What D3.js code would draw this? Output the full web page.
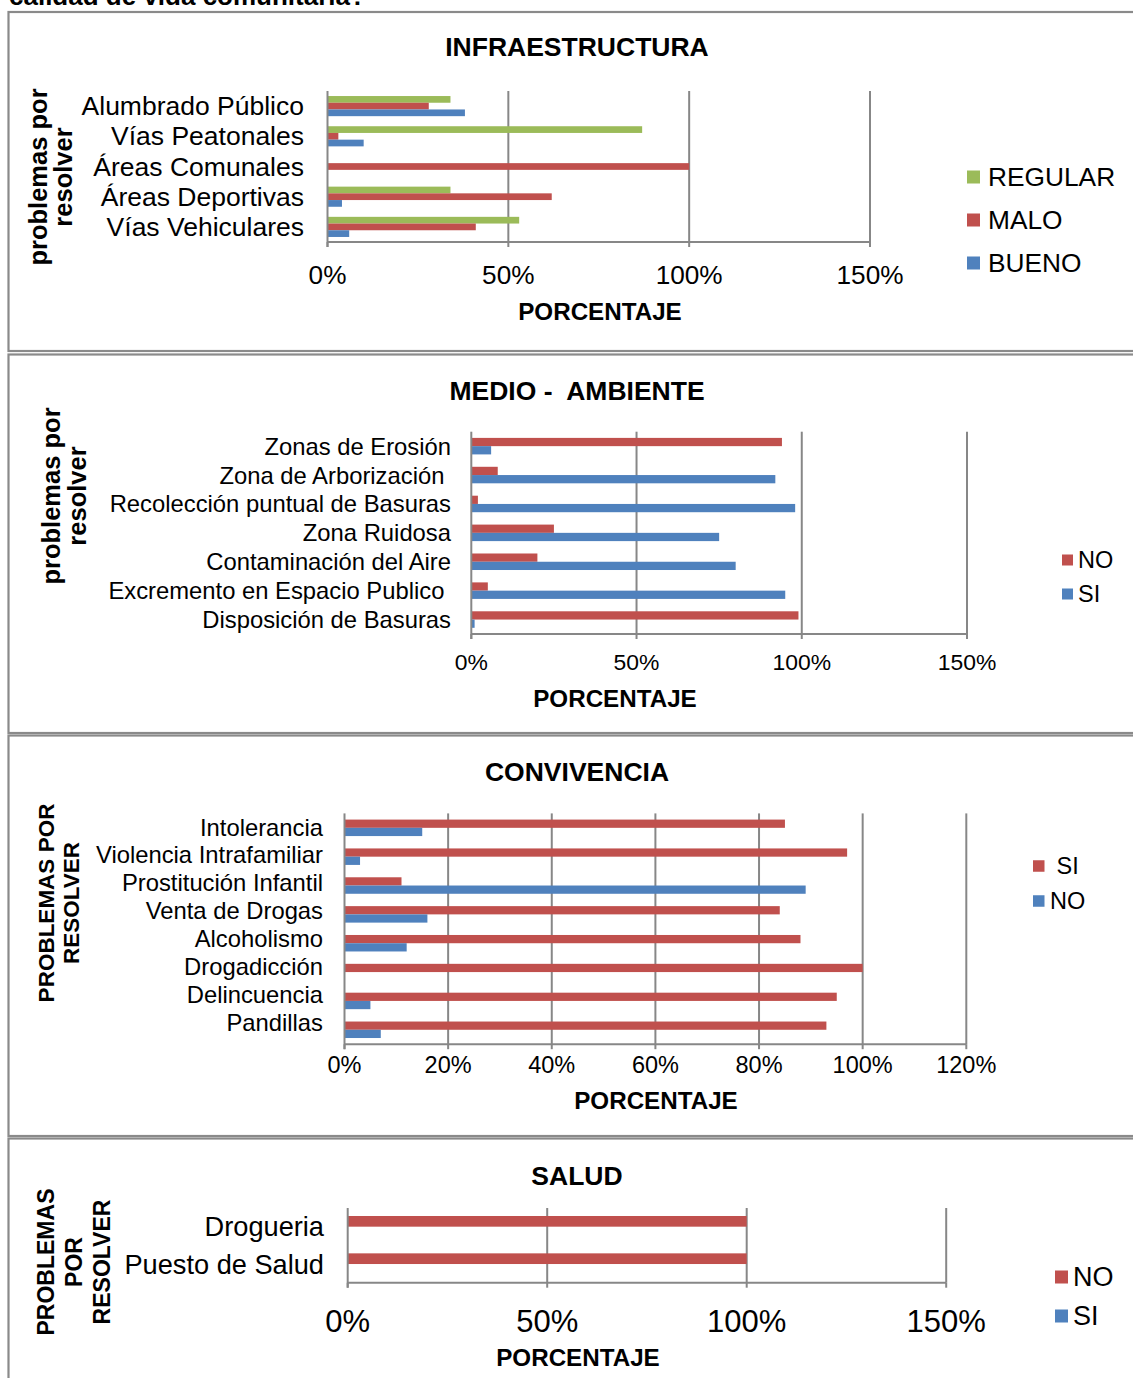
<!DOCTYPE html>
<html>
<head>
<meta charset="utf-8">
<script src="https://cdn.jsdelivr.net/npm/d3@7"></script>
<style>
  html, body { margin: 0; padding: 0; background: #fff; }
  svg { display: block; font-family: "Liberation Sans", Arial, sans-serif; }
  text { white-space: pre; }
</style>
</head>
<body>
<svg id="chart" width="1133" height="1378"></svg>
<script>
// Infraestructura
var infraCats = ["Alumbrado Público", "Vías Peatonales", "Áreas Comunales", "Áreas Deportivas", "Vías Vehiculares"];
var infraRegular = [0.34, 0.87, 0, 0.34, 0.53];
var infraMalo = [0.28, 0.03, 1.00, 0.62, 0.41];
var infraBueno = [0.38, 0.10, 0, 0.04, 0.06];
var infraTicks = [0, 0.5, 1, 1.5];

// Medio ambiente
var ambCats = ["Zonas de Erosión", "Zona de Arborización ", "Recolección puntual de Basuras", "Zona Ruidosa",
  "Contaminación del Aire", "Excremento en Espacio Publico ", "Disposición de Basuras"];
var ambNo = [0.94, 0.08, 0.02, 0.25, 0.20, 0.05, 0.99];
var ambSi = [0.06, 0.92, 0.98, 0.75, 0.80, 0.95, 0.01];
var ambTicks = [0, 0.5, 1, 1.5];

// Convivencia
var convCats = ["Intolerancia", "Violencia Intrafamiliar", "Prostitución Infantil", "Venta de Drogas",
  "Alcoholismo", "Drogadicción", "Delincuencia", "Pandillas"];
var convSi = [0.85, 0.97, 0.11, 0.84, 0.88, 1.00, 0.95, 0.93];
var convNo = [0.15, 0.03, 0.89, 0.16, 0.12, 0, 0.05, 0.07];
var convTicks = [0, 0.2, 0.4, 0.6, 0.8, 1.0, 1.2];

// Salud
var saludCats = ["Drogueria", "Puesto de Salud"];
var saludNo = [1, 1];
var saludSi = [0, 0];
var saludTicks = [0, 0.5, 1, 1.5];

var col = { blue: "#4F81BD", red: "#C0504D", green: "#9BBB59", grid: "#878787" };

var svg = d3.select("#chart");

// Header (cut off at the top of the page, as in the source)
svg.append("text")
  .attr("x", 9).attr("y", 4.5)
  .style("font-weight", "bold").style("font-size", "26px")
  .text("calidad de vida comunitaria?");

// Panel frames
[[12, 339], [354.5, 378.5], [735.5, 400.5], [1138.5, 260]].forEach(function (p) {
  svg.append("rect")
    .attr("x", 8.5).attr("y", p[0]).attr("width", 1140).attr("height", p[1])
    .attr("fill", "none").attr("stroke", "#8a8a8a").attr("stroke-width", 2.2);
});

function drawPanel(cfg) {
  var g = svg.append("g");
  var x = d3.scaleLinear().domain([0, cfg.ticks[cfg.ticks.length - 1]]).range([cfg.x0, cfg.x1]);
  var y = d3.scaleBand().domain(cfg.cats).range([cfg.top, cfg.bottom]).padding(0);
  var sNames = cfg.series.map(function (s) { return s.name; });
  var yInner = d3.scaleBand().domain(sNames).range([0, y.bandwidth()])
    .paddingInner(0).paddingOuter(0.75);

  // gridlines
  g.selectAll(".grid").data(cfg.ticks.slice(1)).enter().append("line")
    .attr("x1", function (d) { return x(d); }).attr("x2", function (d) { return x(d); })
    .attr("y1", cfg.top).attr("y2", cfg.bottom)
    .attr("stroke", col.grid).attr("stroke-width", 2);

  // bars
  cfg.series.forEach(function (s) {
    g.selectAll(null).data(s.values).enter().append("rect")
      .attr("x", x(0))
      .attr("y", function (d, i) { return y(cfg.cats[i]) + yInner(s.name); })
      .attr("width", function (d) { return x(d) - x(0); })
      .attr("height", yInner.bandwidth())
      .attr("fill", s.color);
  });

  // axes lines
  g.append("line").attr("x1", x(0)).attr("x2", x(0)).attr("y1", cfg.top).attr("y2", cfg.bottom + 5)
    .attr("stroke", col.grid).attr("stroke-width", 2);
  g.append("line").attr("x1", x(0)).attr("x2", cfg.x1).attr("y1", cfg.bottom).attr("y2", cfg.bottom)
    .attr("stroke", col.grid).attr("stroke-width", 2);
  g.selectAll(".tk").data(cfg.ticks).enter().append("line")
    .attr("x1", function (d) { return x(d); }).attr("x2", function (d) { return x(d); })
    .attr("y1", cfg.bottom).attr("y2", cfg.bottom + 5)
    .attr("stroke", col.grid).attr("stroke-width", 2);

  // tick labels
  g.selectAll(".tl").data(cfg.ticks).enter().append("text")
    .attr("x", function (d) { return x(d); }).attr("y", cfg.tickY)
    .attr("text-anchor", "middle").attr("dominant-baseline", "central")
    .style("font-size", cfg.tickFont + "px")
    .text(d3.format(".0%"));

  // category labels
  var step = cfg.labelStep || y.bandwidth();
  var first = cfg.labelFirst || (cfg.top + y.bandwidth() / 2);
  g.selectAll(".cl").data(cfg.cats).enter().append("text")
    .attr("x", cfg.labelX).attr("y", function (d, i) { return first + i * step; })
    .attr("text-anchor", "end").attr("dominant-baseline", "central")
    .style("font-size", cfg.labelFont + "px")
    .text(function (d) { return d; });

  // titles
  g.append("text").attr("x", 577).attr("y", cfg.titleY)
    .attr("text-anchor", "middle").attr("dominant-baseline", "central")
    .style("font-weight", "bold").style("font-size", "26.5px")
    .text(cfg.title);
  g.append("text").attr("x", cfg.axTitleX).attr("y", cfg.axTitleY)
    .attr("text-anchor", "middle").attr("dominant-baseline", "central")
    .style("font-weight", "bold").style("font-size", "24.2px")
    .text("PORCENTAJE");

  // rotated y title
  cfg.yTitle.forEach(function (t, i) {
    g.append("text")
      .attr("transform", "translate(" + cfg.yTitleX[i] + "," + cfg.yTitleCy + ") rotate(-90)")
      .attr("text-anchor", "middle")
      .style("font-weight", "bold").style("font-size", cfg.yTitleFont + "px")
      .text(t);
  });

  // legend
  cfg.legend.forEach(function (l, i) {
    var ly = cfg.legY[i];
    g.append("rect").attr("x", cfg.legX).attr("y", ly - cfg.legSq / 2)
      .attr("width", cfg.legSq).attr("height", cfg.legSq).attr("fill", l.color);
    g.append("text").attr("x", cfg.legTx).attr("y", ly)
      .attr("dominant-baseline", "central")
      .style("font-size", cfg.legFont + "px")
      .text(l.name);
  });
}

drawPanel({
  cats: infraCats, ticks: infraTicks,
  series: [{ name: "REGULAR", values: infraRegular, color: col.green },
           { name: "MALO", values: infraMalo, color: col.red },
           { name: "BUENO", values: infraBueno, color: col.blue }],
  x0: 327.5, x1: 870, top: 91, bottom: 242,
  tickY: 275, tickFont: 26.2, labelX: 304, labelFont: 26.5,
  title: "INFRAESTRUCTURA", titleY: 47,
  axTitleX: 600, axTitleY: 311,
  yTitle: ["problemas por", "resolver"], yTitleX: [46.5, 71.5], yTitleCy: 177, yTitleFont: 25.5,
  legend: [{ name: "REGULAR", color: col.green }, { name: "MALO", color: col.red }, { name: "BUENO", color: col.blue }],
  legX: 967, legTx: 988, legY: [177, 220, 263], legSq: 13, legFont: 26.3
});

drawPanel({
  cats: ambCats, ticks: ambTicks,
  series: [{ name: "NO", values: ambNo, color: col.red },
           { name: "SI", values: ambSi, color: col.blue }],
  x0: 471.3, x1: 967, top: 431.7, bottom: 634,
  tickY: 662, tickFont: 22.9, labelX: 451, labelFont: 23.8,
  title: "MEDIO -  AMBIENTE", titleY: 391,
  axTitleX: 615, axTitleY: 698,
  yTitle: ["problemas por", "resolver"], yTitleX: [59.5, 85.5], yTitleCy: 496, yTitleFont: 25.5,
  legend: [{ name: "NO", color: col.red }, { name: "SI", color: col.blue }],
  legX: 1062, legTx: 1078, legY: [560, 594], legSq: 11, legFont: 23.5
});

drawPanel({
  cats: convCats, ticks: convTicks,
  series: [{ name: "SI", values: convSi, color: col.red },
           { name: "NO", values: convNo, color: col.blue }],
  x0: 344.5, x1: 966.3, top: 813.4, bottom: 1044.2,
  tickY: 1065, tickFont: 23.5, labelX: 323, labelFont: 23.8,
  labelFirst: 827, labelStep: 27.9,
  title: "CONVIVENCIA", titleY: 772,
  axTitleX: 656, axTitleY: 1100,
  yTitle: ["PROBLEMAS POR", "RESOLVER"], yTitleX: [53.5, 78.5], yTitleCy: 903, yTitleFont: 22.5,
  legend: [{ name: " SI", color: col.red }, { name: "NO", color: col.blue }],
  legX: 1033, legTx: 1050, legY: [866, 901], legSq: 11.5, legFont: 23.5
});

drawPanel({
  cats: saludCats, ticks: saludTicks,
  series: [{ name: "NO", values: saludNo, color: col.red },
           { name: "SI", values: saludSi, color: col.blue }],
  x0: 347.7, x1: 946.2, top: 1208, bottom: 1282.7,
  tickY: 1321, tickFont: 31, labelX: 324, labelFont: 27.2,
  title: "SALUD", titleY: 1176,
  axTitleX: 578, axTitleY: 1357,
  yTitle: ["PROBLEMAS", "POR", "RESOLVER"], yTitleX: [54, 82, 109.5], yTitleCy: 1262, yTitleFont: 23,
  legend: [{ name: "NO", color: col.red }, { name: "SI", color: col.blue }],
  legX: 1055, legTx: 1073, legY: [1277, 1316], legSq: 13, legFont: 27
});
</script>
</body>
</html>
